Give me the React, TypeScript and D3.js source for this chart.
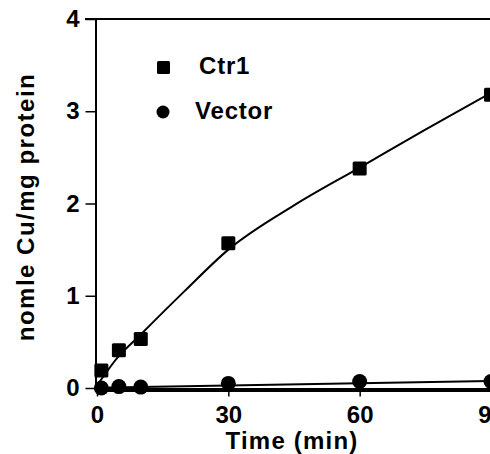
import React, { useEffect, useRef } from "react";
import * as d3 from "d3";

// measured time points (min)
const times = [1, 5, 10, 30, 60, 90];
const ctr1 = [0.19, 0.41, 0.53, 1.57, 2.38, 3.18];
const vector = [0.0, 0.015, 0.01, 0.05, 0.07, 0.07];

// fitted curves
const fitTimesCtr1 = [0, 2, 4, 10, 20, 30, 45, 60, 75, 90];
const fitCtr1 = [0.03, 0.16, 0.29, 0.58, 1.05, 1.5, 1.98, 2.39, 2.8, 3.2];
const fitTimesVector = [0, 90];
const fitVector = [0.003, 0.075];

const xTicks = [0, 30, 60, 90];
const yTicks = [0, 1, 2, 3, 4];

const FONT = "'Liberation Sans', Arial, Helvetica, sans-serif";

export default function App() {
  const svgRef = useRef<SVGSVGElement>(null);

  useEffect(() => {
    const width = 490;
    const height = 454;
    const svg = d3.select(svgRef.current);
    svg.selectAll("*").remove();
    svg.attr("width", width).attr("height", height);

    const x = d3.scaleLinear().domain([0, 90]).range([97, 491]);
    const y = d3.scaleLinear().domain([0, 4]).range([388, 19]);

    // top frame line
    svg
      .append("line")
      .attr("x1", 85)
      .attr("x2", width)
      .attr("y1", y(4))
      .attr("y2", y(4))
      .attr("stroke", "#000")
      .attr("stroke-width", 2);

    // y axis
    const yAxis = svg
      .append("g")
      .attr("transform", `translate(95.5,0)`)
      .call(
        d3
          .axisLeft(y)
          .tickValues(yTicks)
          .tickSize(10)
          .tickSizeOuter(0)
          .tickPadding(6)
          .tickFormat(d3.format("d"))
      );
    yAxis.select(".domain").attr("stroke-width", 2);
    yAxis.selectAll(".tick line").attr("stroke-width", 1.5);
    yAxis
      .selectAll("text")
      .attr("font-family", FONT)
      .attr("font-weight", "bold")
      .attr("font-size", 24)
      .attr("fill", "#000");

    // x axis
    const xAxis = svg
      .append("g")
      .attr("transform", `translate(0,${y(0) + 1.5})`)
      .call(
        d3
          .axisBottom(x)
          .tickValues(xTicks)
          .tickSize(7)
          .tickSizeOuter(0)
          .tickPadding(9)
      );
    xAxis.select(".domain").attr("stroke-width", 4);
    xAxis.selectAll(".tick line").attr("stroke-width", 1.5);
    xAxis
      .selectAll("text")
      .attr("font-family", FONT)
      .attr("font-weight", "bold")
      .attr("font-size", 24)
      .attr("fill", "#000");

    // fitted lines
    const line = d3
      .line<[number, number]>()
      .x((d) => x(d[0]))
      .y((d) => y(d[1]))
      .curve(d3.curveMonotoneX);

    svg
      .append("path")
      .datum(fitTimesCtr1.map((t, i) => [t, fitCtr1[i]] as [number, number]))
      .attr("d", line)
      .attr("fill", "none")
      .attr("stroke", "#000")
      .attr("stroke-width", 2);

    svg
      .append("path")
      .datum(fitTimesVector.map((t, i) => [t, fitVector[i]] as [number, number]))
      .attr("d", line)
      .attr("fill", "none")
      .attr("stroke", "#000")
      .attr("stroke-width", 2);

    // Ctr1 squares
    const sq = 14;
    svg
      .append("g")
      .selectAll("rect")
      .data(times)
      .join("rect")
      .attr("x", (d) => x(d) - sq / 2)
      .attr("y", (d, i) => y(ctr1[i]) - sq / 2)
      .attr("width", sq)
      .attr("height", sq)
      .attr("rx", 1.5)
      .attr("fill", "#000");

    // Vector circles
    svg
      .append("g")
      .selectAll("circle")
      .data(times)
      .join("circle")
      .attr("cx", (d) => x(d))
      .attr("cy", (d, i) => y(vector[i]))
      .attr("r", 7.5)
      .attr("fill", "#000");

    // legend
    const legend = svg.append("g");
    legend
      .append("rect")
      .attr("x", 157)
      .attr("y", 61)
      .attr("width", 13)
      .attr("height", 13)
      .attr("rx", 1.5)
      .attr("fill", "#000");
    legend
      .append("circle")
      .attr("cx", 163)
      .attr("cy", 112)
      .attr("r", 6.5)
      .attr("fill", "#000");
    legend
      .append("text")
      .attr("x", 199)
      .attr("y", 74)
      .attr("font-family", FONT)
      .attr("font-weight", "bold")
      .attr("font-size", 24)
      .attr("letter-spacing", 0.8)
      .text("Ctr1");
    legend
      .append("text")
      .attr("x", 195)
      .attr("y", 119)
      .attr("font-family", FONT)
      .attr("font-weight", "bold")
      .attr("font-size", 24)
      .attr("letter-spacing", 0.8)
      .text("Vector");

    // axis titles
    svg
      .append("text")
      .attr("x", x(45) - 2)
      .attr("y", 449)
      .attr("text-anchor", "middle")
      .attr("font-family", FONT)
      .attr("font-weight", "bold")
      .attr("font-size", 24)
      .attr("letter-spacing", 1.2)
      .text("Time (min)");

    svg
      .append("text")
      .attr("transform", `translate(34,207) rotate(-90)`)
      .attr("text-anchor", "middle")
      .attr("font-family", FONT)
      .attr("font-weight", "bold")
      .attr("font-size", 24)
      .attr("letter-spacing", 1.5)
      .text("nomle Cu/mg protein");
  }, []);

  return (
    <div>
      <svg
        ref={svgRef}
        style={{ position: "absolute", left: 0, top: 0, background: "#fff" }}
      ></svg>
    </div>
  );
}
